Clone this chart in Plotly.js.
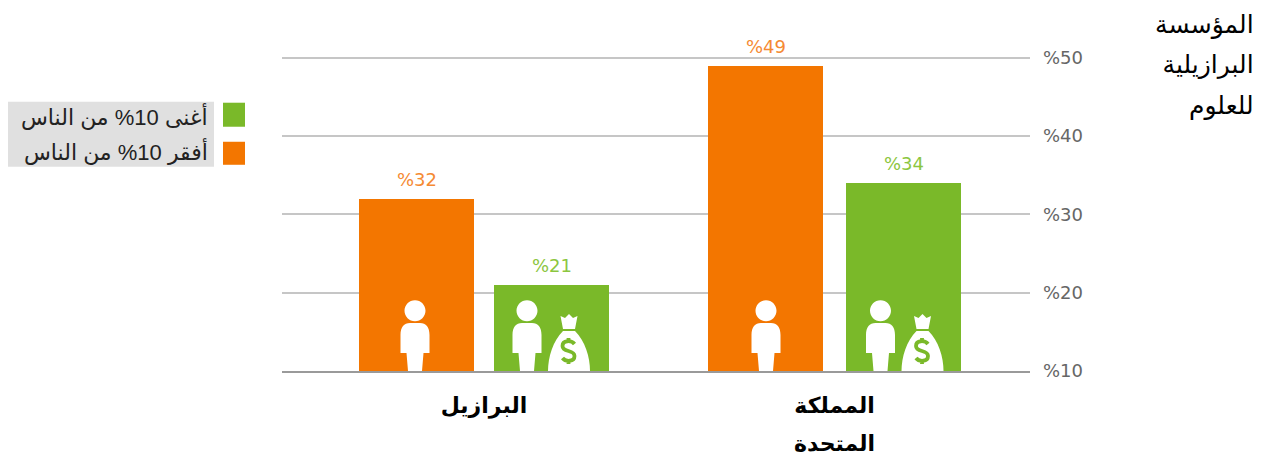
<!DOCTYPE html>
<html lang="ar">
<head>
<meta charset="utf-8">
<script src="https://cdn.plot.ly/plotly-3.0.1.min.js"></script>
<style>html,body{margin:0;padding:0;background:#fff}</style>
</head>
<body>
<div id="chart" style="width:1266px;height:457px"></div>
<script>
// ---- data ----
const categories = ["البرازيل", "المملكة المتحدة"];
const poorestName = "أفقر 10% من الناس";
const richestName = "أغنى 10% من الناس";
const poorestValues = [32, 49];
const richestValues = [21, 34];
const yTickValues = [10, 20, 30, 40, 50];
const xTickLabels = ["البرازيل", "المملكة<br>المتحدة"];
const sourceLines = "المؤسسة<br>البرازيلية<br>للعلوم";

// ---- style and layout constants ----
const ORANGE = "#f37600", GREEN = "#7ab929", GRID = "#c6c6c6", TICK = "#666666";
const PL = 282, PR = 1030, PT = 42.35, PB = 371, H = 457, W = 1266;
const PX = 350.5, BARW = 115;                 // pixels per category, bar width
const orangeOff = [-125, -126.5], greenOff = [10, 11.5];   // bar left edge from category centre, px
const LATIN = "'DejaVu Sans', sans-serif";
const AR = "'Liberation Sans', 'DejaVu Sans', sans-serif";

const px = (i, off) => i + off / PX;
const fx = p => (p - PL) / (PR - PL);
const fy = p => (PB - p) / (PB - PT);

const traces = [
  {type: "bar", name: poorestName, x: [0, 1], y: poorestValues, marker: {color: ORANGE, line: {width: 0}},
   width: BARW / PX, offset: orangeOff.map(o => o / PX), hoverinfo: "x+y+name"},
  {type: "bar", name: richestName, x: [0, 1], y: richestValues, marker: {color: GREEN, line: {width: 0}},
   width: BARW / PX, offset: greenOff.map(o => o / PX), hoverinfo: "x+y+name"}
];

// ---- pictograms, pixel paths measured up from the baseline ----
const PERSON = "M-10.5,60.3 C-10.5,66.1 -5.8,70.8 0,70.8 C5.8,70.8 10.5,66.1 10.5,60.3 C10.5,54.5 5.8,49.8 0,49.8 C-5.8,49.8 -10.5,54.5 -10.5,60.3 Z " +
  "M-7,0 L-8.5,18 L-14.5,18 L-14.5,36 C-14.5,44 -11,48 -5,48 L5,48 C11,48 14.5,44 14.5,36 L14.5,18 L8.5,18 L7,0 Z";
const BAG = "M-21,0 C-21,14 -16,30 -6,40 L6,40 C16,30 21,14 21,0 Z M-6,42 L-8.5,55 L-4,53 L0,57 L4,53 L8.5,55 L6,42 Z";
const DOLLAR = "M6,27 C3,31 -6,31 -6,25 C-6,18 6,22 6,15 C6,9 -3,9 -6,13 M0,33 L0,30 M0,10 L0,7";

const icon = (path, cat, off, fill, stroke) => ({
  type: "path", path, xref: "x", yref: "y", xsizemode: "pixel", ysizemode: "pixel",
  xanchor: px(cat, off), yanchor: 10, fillcolor: fill, line: {width: stroke ? 3.8 : 0, color: stroke || "rgba(0,0,0,0)"}
});
const shapes = [
  {type: "rect", xref: "paper", yref: "paper", x0: fx(8), x1: fx(214), y0: fy(167), y1: fy(102), fillcolor: "#e0e0e0", line: {width: 0}, layer: "below"},
  {type: "rect", xref: "paper", yref: "paper", x0: fx(223), x1: fx(245), y0: fy(127), y1: fy(103), fillcolor: GREEN, line: {width: 0}},
  {type: "rect", xref: "paper", yref: "paper", x0: fx(223), x1: fx(245), y0: fy(165), y1: fy(142), fillcolor: ORANGE, line: {width: 0}},
  icon(PERSON, 0, -69, "#fff"),
  icon(PERSON, 0, 43, "#fff"), icon(BAG, 0, 85, "#fff"), icon(DOLLAR, 0, 84.5, "rgba(0,0,0,0)", GREEN),
  icon(PERSON, 1, -68.5, "#fff"),
  icon(PERSON, 1, 46, "#fff"), icon(BAG, 1, 88, "#fff"), icon(DOLLAR, 1, 87.5, "rgba(0,0,0,0)", GREEN)
];

// ---- text ----
const valueNote = (v, i, off, color) => ({
  x: px(i, off + BARW / 2), y: v, xref: "x", yref: "y", text: "%" + v, showarrow: false,
  yanchor: "bottom", yshift: 7, font: {family: LATIN, size: 18, color}
});
const annotations = [
  ...poorestValues.map((v, i) => valueNote(v, i, orangeOff[i], "#f58a33")),
  ...richestValues.map((v, i) => valueNote(v, i, greenOff[i], "#8cc63f")),
  {xref: "paper", yref: "paper", x: fx(210), y: fy(117), xanchor: "right", yanchor: "middle", showarrow: false,
   text: richestName, font: {family: AR, size: 22, color: "#222"}},
  {xref: "paper", yref: "paper", x: fx(210), y: fy(152), xanchor: "right", yanchor: "middle", showarrow: false,
   text: poorestName, font: {family: AR, size: 22, color: "#222"}},
  {xref: "paper", yref: "paper", x: fx(1256), y: fy(8), xanchor: "right", yanchor: "top", align: "right", showarrow: false,
   text: sourceLines.split("<br>").map(s => '<span style="font-size:25px">' + s + "</span>").join("<br>"),
   font: {family: AR, size: 31, color: "#000"}}
];

const layout = {
  width: W, height: H, showlegend: false, paper_bgcolor: "#fff", plot_bgcolor: "#fff",
  margin: {l: PL, r: W - PR, t: PT, b: H - PB, pad: 0},
  bargap: 0, barmode: "overlay",
  xaxis: {
    type: "category", categoryorder: "array", categoryarray: [0, 1], range: [-(484 - PL) / PX, (PR - 484) / PX],
    tickmode: "array", tickvals: [0, 1],
    ticktext: xTickLabels.map(t => t.split("<br>").map(s => '<span style="font-size:22px"><b>' + s + "</b></span>").join("<br>")),
    tickfont: {family: AR, size: 29, color: "#000"}, ticks: "", showgrid: false, ticklabelstandoff: 5,
    showline: true, linecolor: "#9a9a9a", linewidth: 2, zeroline: false, fixedrange: true
  },
  yaxis: {
    side: "right", range: [10, 52], tickmode: "array", tickvals: yTickValues, ticktext: yTickValues.map(v => "%" + v),
    tickfont: {family: LATIN, size: 18, color: TICK}, ticks: "", ticklabelstandoff: 12,
    showgrid: true, gridcolor: GRID, gridwidth: 2, zeroline: false, showline: false, fixedrange: true
  },
  shapes, annotations
};
Plotly.newPlot("chart", traces, layout, {displayModeBar: false, staticPlot: true});
</script>
</body>
</html>
